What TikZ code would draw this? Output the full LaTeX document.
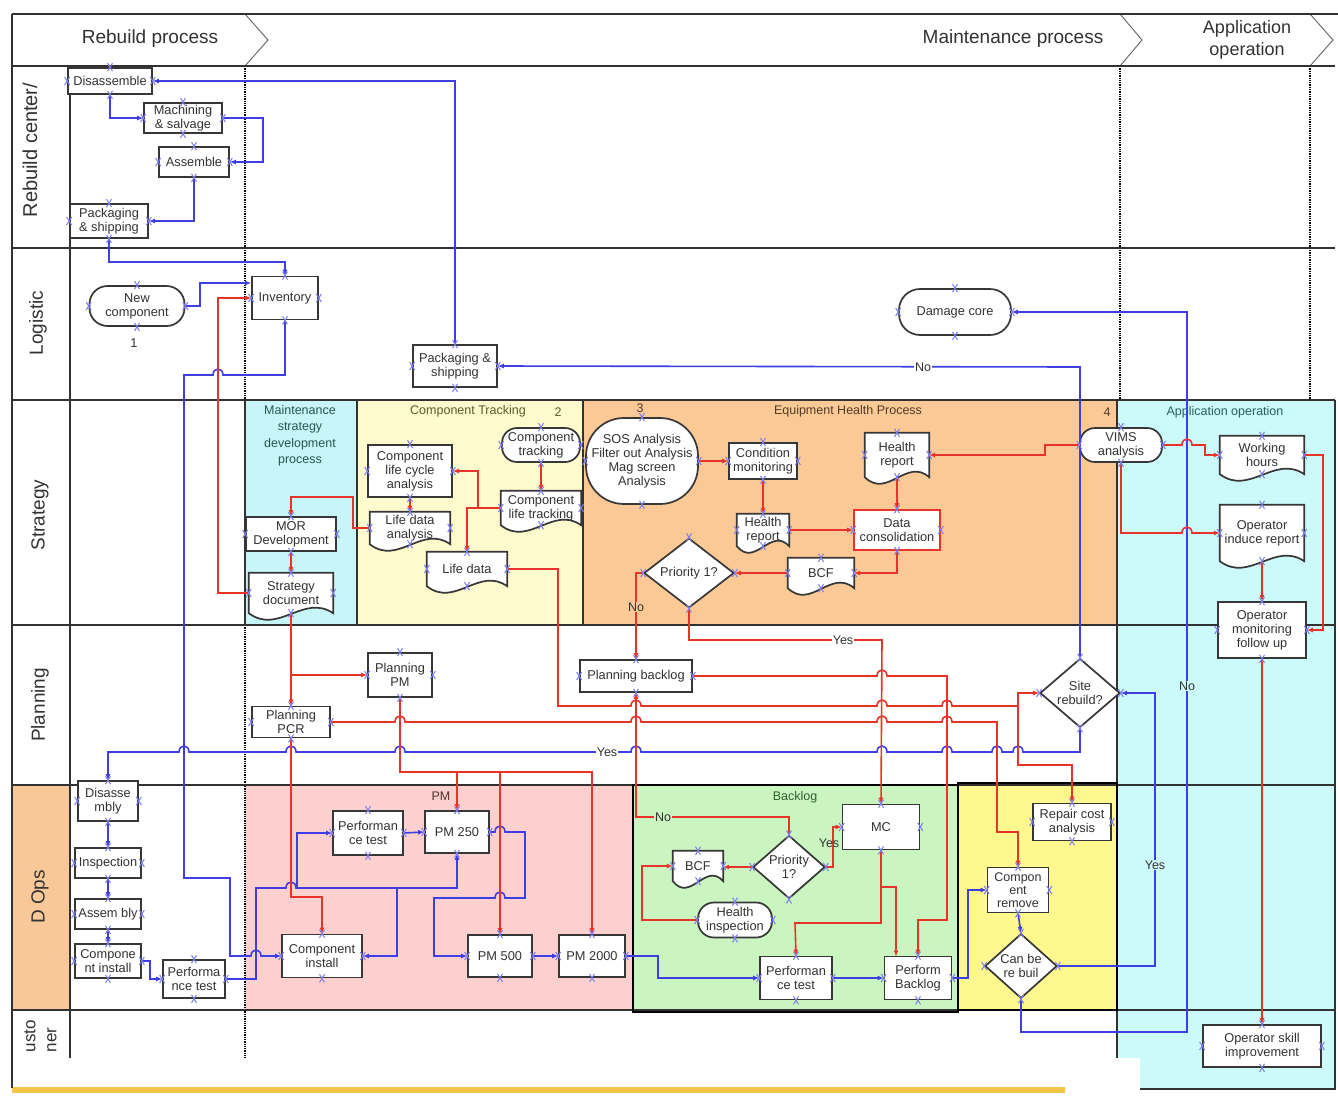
\documentclass[tikz,border=0pt]{standalone}
\usepackage{fontspec}
\setmainfont{Liberation Sans}
\usetikzlibrary{shapes.geometric,arrows.meta,calc}
\definecolor{ndraw}{RGB}{55,55,55}
\definecolor{ntext}{RGB}{50,50,50}
\definecolor{redl}{RGB}{232,52,40}
\definecolor{bluel}{RGB}{62,62,228}
\definecolor{xmk}{RGB}{125,125,235}
\definecolor{cyanA}{RGB}{200,246,248}
\definecolor{cyanB}{RGB}{204,250,250}
\definecolor{yelA}{RGB}{253,250,206}
\definecolor{orgA}{RGB}{251,201,150}
\definecolor{pinkA}{RGB}{252,208,206}
\definecolor{grnA}{RGB}{202,245,192}
\definecolor{yelB}{RGB}{254,248,142}
\definecolor{orgL}{RGB}{248,200,152}
\definecolor{lanel}{RGB}{50,50,50}
\definecolor{barY}{RGB}{246,196,72}
\pgfdeclarelayer{bg}
\pgfdeclarelayer{docs}
\pgfsetlayers{bg,docs,main}
\begin{document}
\begin{tikzpicture}[x=1pt,y=-1pt,
  nf/.style={font=\fontsize{12.8}{14}\selectfont, text=ntext},
  box/.style={nf, draw=ndraw, fill=white, line width=1.7pt, rectangle, align=center, inner sep=1pt},
  term/.style={box, rounded corners=13pt},
  docn/.style={nf, rectangle, align=center, inner sep=1pt},
  dia/.style={box, diamond, inner sep=0pt},
  sz/.style 2 args={minimum width=#1pt, minimum height=#2pt},
  rln/.style={draw=redl, line width=1.6pt},
  rl/.style={rln, -{Latex[length=6pt,width=5pt]}},
  bln/.style={draw=bluel, line width=1.6pt},
  bl/.style={bln, -{Latex[length=6pt,width=5pt]}},
  lbl/.style={font=\fontsize{12.5}{14}\selectfont, text=ntext, fill=white, inner sep=1pt},
  ttl/.style={font=\fontsize{12.5}{16.5}\selectfont, align=center},
  lane/.style={font=\fontsize{19}{22}\selectfont, text=lanel, rotate=90},
  hdr/.style={font=\fontsize{19}{22}\selectfont, text=lanel, align=center},
  sep/.style={draw=lanel, line width=2.8pt},
  xm/.style={draw=xmk, line width=1pt},
  jr/.style 2 args={insert path={-- (#1-5,#2) .. controls +(0,-8) and +(0,-8) .. (#1+5,#2)}},
  jl/.style 2 args={insert path={-- (#1+5,#2) .. controls +(0,-8) and +(0,-8) .. (#1-5,#2)}},
]
\useasboundingbox (0,0) rectangle (1338,1095);

% ---------- lanes, regions and header ----------
\begin{pgfonlayer}{bg}
  \fill[white] (0,0) rectangle (1338,1095);
  \fill[orgL] (12,785) rectangle (70,1010);
  \fill[cyanA] (245,400) rectangle (357,625);
  \fill[yelA] (357,400) rectangle (583,625);
  \fill[orgA] (583,400) rectangle (1117,625);
  \fill[cyanB] (1117,400) rectangle (1335,1058);
  \fill[cyanB] (1140,1058) rectangle (1335,1089);
  \fill[pinkA] (245,785) rectangle (633,1010);
  \fill[grnA] (633,785) rectangle (958,1012);
  \fill[yelB] (958,783) rectangle (1117,1010);
  \fill[barY] (12,1087) rectangle (1065,1093);
  % header chevrons
  \draw[draw=lanel!70, line width=1pt] (245,14) -- (268,40) -- (245,66);
  \draw[draw=lanel!70, line width=1pt] (1120,14) -- (1142,40) -- (1120,66);
  \draw[draw=lanel!70, line width=1pt] (1310,14) -- (1333,40) -- (1310,66);
  % phase separators
  \draw[densely dotted, line width=1.3pt, draw=black] (245,66) -- (245,1058);
  \draw[densely dotted, line width=1.3pt, draw=black] (1120,66) -- (1120,400);
  \draw[densely dotted, line width=1.3pt, draw=black] (1310,66) -- (1310,400);
  % lane lines
  \foreach \yy in {66,248,400,625,785,1010} \draw[sep] (12,\yy) -- (1335,\yy);
  \draw[sep] (12,14) -- (1338,14);
  \draw[sep] (12,14) -- (12,1088);
  \draw[sep] (70,66) -- (70,1058);
  % region borders
  \draw[draw=lanel, line width=2pt] (245,400) -- (245,625) (357,400) -- (357,625) (583,400) -- (583,625);
  \draw[draw=lanel, line width=2.2pt] (1117,400) -- (1117,1058);
  \draw[draw=lanel, line width=2.2pt] (1335,400) -- (1335,1089) -- (1140,1089);
  \draw[draw=black, line width=2pt] (633,785) rectangle (958,1012);
  \draw[draw=black, line width=2pt] (958,783) rectangle (1117,1010);
\end{pgfonlayer}

% header and lane titles
\node[hdr] (hRebuild) at (150,39) {Rebuild process};
\node[hdr] (hMaint) at (1013,39) {Maintenance process};
\node[hdr, font=\fontsize{18}{22}\selectfont] (hApp) at (1247,40) {Application\\ operation};
\node[lane, font=\fontsize{20}{22}\selectfont] (lRebuild) at (30,150) {Rebuild center/};
\node[lane] (lLog) at (38,323) {Logistic};
\node[lane] (lStrat) at (40,515) {Strategy};
\node[lane] (lPlan) at (40,705) {Planning};
\node[lane] (lOps) at (40,897) {D Ops};
\node[lane, font=\fontsize{17}{20}\selectfont] (lCust1) at (30,1036) {usto};
\node[lane, font=\fontsize{17}{20}\selectfont] (lCust2) at (52,1040) {ner};

% region titles
\node[ttl, text={rgb,255:red,40;green,85;blue,85}] (tMsd) at (300,436) {Maintenance\\ strategy\\ development\\ process};
\node[ttl, text={rgb,255:red,90;green,90;blue,45}] (tCt) at (468,411) {Component Tracking};
\node[ttl, text={rgb,255:red,90;green,90;blue,45}] (tN2) at (558,412) {2};
\node[ttl, text={rgb,255:red,80;green,60;blue,40}] (tN3) at (640,408) {3};
\node[ttl, text={rgb,255:red,80;green,60;blue,40}] (tEhp) at (848,411) {Equipment Health Process};
\node[ttl, text={rgb,255:red,80;green,60;blue,40}] (tN4) at (1107,412) {4};
\node[ttl, text={rgb,255:red,40;green,95;blue,95}] (tApp) at (1225,412) {Application operation};
\node[ttl, text={rgb,255:red,85;green,50;blue,50}] (tPm) at (441,796) {PM};
\node[ttl, text={rgb,255:red,40;green,100;blue,40}] (tBl) at (795,797) {Backlog};

% ---------- Rebuild center ----------
\node[box,sz={84}{26}] (dis) at (110,81) {Disassemble};
\node[box,sz={78}{30}] (mach) at (183,118) {Machining\\ \& salvage};
\node[box,sz={70}{30}] (asm) at (194,162) {Assemble};
\node[box,sz={78}{34}] (pkr) at (109,221) {Packaging\\ \& shipping};

% ---------- Logistic ----------
\node[term,sz={95}{40},rounded corners=18pt] (newc) at (137,306) {New\\ component};
\node[nf] (n1) at (134,343) {1};
\node[box,sz={66}{43}] (inv) at (285,298) {Inventory};
\node[box,sz={84}{42}] (pkl) at (455,366) {Packaging \&\\ shipping};
\node[term,sz={112}{46},rounded corners=21pt] (dmg) at (955,312) {Damage core};

% ---------- Strategy ----------
\node[box,sz={90}{34}] (mor) at (291,534) {MOR\\ Development};
\node[docn,sz={84}{40}] (sdoc) at (291,593) {Strategy\\ document};
\node[box,sz={84}{52}] (clca) at (410,471) {Component\\ life cycle\\ analysis};
\node[docn,sz={80}{32}] (lda) at (410,528) {Life data\\ analysis};
\node[docn,sz={80}{34}] (ld) at (467,569) {Life data};
\node[term,sz={78}{34},rounded corners=15pt] (ctr) at (541,445) {Component\\ tracking};
\node[docn,sz={80}{34}] (clt) at (541,508) {Component\\ life tracking};
\node[term,sz={112}{86},rounded corners=38pt] (sos) at (642,461) {SOS Analysis\\ Filter out Analysis\\ Mag screen\\ Analysis};
\node[box,sz={68}{36}] (cmon) at (763,461) {Condition\\ monitoring};
\node[docn,sz={52}{32}] (hr1) at (763,530) {Health\\ report};
\node[docn,sz={64}{44}] (hr2) at (897,455) {Health\\ report};
\node[box,draw=redl,sz={86}{40}] (dcon) at (897,530) {Data\\ consolidation};
\node[docn,sz={66}{30}] (bcf1) at (821,573) {BCF};
\node[dia,sz={90}{62}] (pri1) at (689,573) {Priority 1?};
\node[term,sz={82}{34},rounded corners=15pt] (vims) at (1121,445) {VIMS\\ analysis};
\node[docn,sz={84}{38}] (wh) at (1262,455) {Working\\ hours};
\node[docn,sz={84}{56}] (oir) at (1262,533) {Operator\\ induce report};
\node[box,sz={88}{56}] (omf) at (1262,630) {Operator\\ monitoring\\ follow up};

% ---------- Planning ----------
\node[box,sz={64}{44}] (ppm) at (400,675) {Planning\\ PM};
\node[box,sz={78}{31}] (pcr) at (291,722) {Planning\\ PCR};
\node[box,sz={112}{32}] (pbl) at (636,676) {Planning backlog};
\node[dia,sz={80}{62}] (site) at (1080,693) {Site\\ rebuild?};

% ---------- D Ops ----------
\node[box,sz={60}{40}] (dsy) at (108,801) {Disasse\\ mbly};
\node[box,sz={66}{30}] (insp) at (108,863) {Inspection};
\node[box,sz={66}{30}] (asy) at (108,914) {Assem bly};
\node[box,sz={66}{34}] (cil) at (108,961) {Compone\\ nt install};
\node[box,sz={62}{38}] (ptl) at (194,979) {Performa\\ nce test};
\node[box,sz={70}{44}] (ptp) at (368,833) {Performan\\ ce test};
\node[box,sz={64}{42}] (pm250) at (457,832) {PM 250};
\node[box,sz={80}{43}] (cip) at (322,956) {Component\\ install};
\node[box,sz={64}{42}] (pm500) at (500,956) {PM 500};
\node[box,sz={66}{42}] (pm2000) at (592,956) {PM 2000};
\node[docn,sz={50}{30}] (bcf2) at (698,866) {BCF};
\node[dia,sz={72}{60}] (pri2) at (789,867) {Priority\\ 1?};
\node[box,sz={77}{45}] (mc) at (881,827) {MC};
\node[term,sz={74}{35},rounded corners=16pt] (hin) at (735,920) {Health\\ inspection};
\node[box,sz={72}{43}] (ptb) at (796,978) {Performan\\ ce test};
\node[box,sz={67}{43}] (pfb) at (918,978) {Perform\\ Backlog};
\node[box,sz={61}{45},font=\fontsize{12.5}{13}\selectfont] (crm) at (1018,890) {Compon\\ ent\\ remove};
\node[box,sz={78}{37}] (rca) at (1072,822) {Repair cost\\ analysis};
\node[dia,sz={72}{54}] (cbr) at (1021,966) {Can be\\ re buil};

% ---------- Customer ----------
\node[box,sz={118}{42}] (osi) at (1262,1046) {Operator skill\\ improvement};

% document shapes (wavy bottom edge)
\begin{pgfonlayer}{docs}
\foreach \nd in {sdoc,lda,ld,clt,hr1,hr2,bcf1,wh,oir,bcf2}{
  \draw[fill=white, draw=ndraw, line width=1.7pt]
    let \p1=(\nd.north west), \p2=(\nd.south east) in
    (\x1,\y1) -- (\x2,\y1) -- (\x2,\y2)
    .. controls ({\x2-0.35*(\x2-\x1)},{\y2+20pt}) and ({\x1+0.35*(\x2-\x1)},{\y2-22pt}) .. (\x1,\y2) -- cycle;
}
\end{pgfonlayer}

% ---------- blue flow ----------
\draw[bl] (dis.south) |- (mach.west);
\draw[bl] (mach.east) -- (263,118) -- (263,162) -- (asm.east);
\draw[bl] (asm.south) |- (pkr.east);
\draw[bl] (pkr.south) -- (109,262) -- (285,262) -- (inv.north);
\draw[bl] (pkl.north) |- (dis.east);
\draw[bl] (newc.east) -- (200,306) -- (200,283) -- (inv.west |- 0,283);
\draw[bl] (inv.south) -- (285,375) [jl={218}{375}] -- (184,375) -- (184,878) -- (230,878) -- (230,956) [jr={256}{956}] -- (cip.west);
\draw[bl] (ptl.east) -- (256,979) -- (256,888) [jr={291}{888}] -- (457,888) -- (pm250.south);
\coordinate (jA) at (397,888);
\coordinate (jB) at (297,888);
\draw[bl] (jA) -- (397,956) -- (cip.east);
\draw[bl] (jB) -- (297,833) -- (ptp.west);
\draw[bl] (ptp.east) -- (pm250.west);
\draw[bl] (pm250.east) [jr={500}{832}] -- (525,832) -- (525,898) [jl={500}{898}] -- (434,898) -- (434,956) -- (pm500.west);
\draw[bl] (pm500.east) -- (pm2000.west);
\draw[bl] (pm2000.east) -- (658,956) -- (658,978) -- (ptb.west);
\draw[bl] (ptb.east) -- (pfb.west);
\draw[bl] (pfb.east) -- (968,978) -- (968,890) -- (crm.west);
\draw[bl] (crm.south) -- (cbr.north);
\draw[bl] (cbr.east) -- (1155,966) -- (1155,693) -- (site.east);
\draw[bl] (cbr.south) -- (1021,1032) -- (1187,1032) -- (1187,312) -- (dmg.east);
\draw[bl] (site.north) -- (1080,367) -- (pkl.east);
\draw[bl] (site.south) -- (1080,752) [jl={1018}{752}] [jl={997}{752}] [jl={947}{752}] [jl={882}{752}]
  [jl={636}{752}] [jl={400}{752}] [jl={291}{752}] [jl={184}{752}] -- (108,752) -- (dsy.north);
\draw[bl] (dsy.south) -- (insp.north);
\draw[bl] (insp.south) -- (asy.north);
\draw[bl] (asy.south) -- (cil.north);
\draw[bl] (cil.east) -- (150,961) -- (150,979) -- (ptl.west);

% ---------- red flow ----------
\draw[rl] (clca.south) -- (lda.north);
\draw[rl] (clt.west) -- (467,508) -- (ld.north);
\coordinate (jC) at (478,508);
\draw[rl] (jC) -- (478,471) -- (clca.east);
\draw[rl] (ctr.south) -- (clt.north);
\draw[rl] (lda.west) -- (353,528) -- (353,497) -- (291,497) -- (mor.north);
\draw[rl] (mor.south) -- (sdoc.north);
\draw[rl] (sdoc.west) -- (218,593) -- (218,298) -- (inv.west);
\draw[rl] (sos.east) -- (cmon.west);
\draw[rl] (cmon.south) -- (hr1.north);
\draw[rl] (hr1.east) -- (dcon.west);
\draw[rl] (hr2.south) -- (dcon.north);
\draw[rl] (dcon.south) -- (897,573) -- (bcf1.east);
\draw[rl] (bcf1.west) -- (pri1.east);
\draw[rl] (vims.west) -- (1045,445) -- (1045,455) -- (hr2.east);
\draw[rl] (vims.east) [jr={1187}{445}] -- (1205,445) -- (1205,455) -- (wh.west);
\draw[rl] (vims.south) -- (1121,533) [jr={1187}{533}] -- (oir.west);
\draw[rl] (wh.east) -- (1323,455) -- (1323,630) -- (omf.east);
\draw[rl] (oir.south) -- (omf.north);
\draw[rl] (omf.south) -- (osi.north);
\draw[rl] (pri1.west) -- (636,573) -- (pbl.north);
\draw[rl] (pri1.south) -- (689,640) -- (882,640) -- (mc.north);
\draw[rl] (pbl.east) [jr={882}{676}] -- (947,676) -- (947,920) -- (918,920) -- (pfb.north);
\draw[rl] (ld.east) -- (558,569) -- (558,706) [jr={636}{706}] [jr={882}{706}] [jr={947}{706}] -- (1018,706) -- (1018,693) -- (site.west);
\coordinate (jD) at (1018,706);
\draw[rl] (jD) -- (1018,765) -- (1072,765) -- (rca.north);
\draw[rl] (pcr.east) [jr={400}{722}] [jr={636}{722}] [jr={882}{722}] [jr={947}{722}] -- (997,722) -- (997,832) -- (1018,832) -- (crm.north);
\draw[rl] (sdoc.south) -- (pcr.north);
\coordinate (jE) at (291,675);
\draw[rl] (jE) -- (ppm.west);
\draw[rl, line width=2.4pt] (ppm.south) -- (400,772) -- (592,772) -- (pm2000.north);
\coordinate (jF) at (457,772);
\coordinate (jG) at (500,772);
\draw[rl] (jF) -- (pm250.north);
\draw[rl] (jG) -- (pm500.north);
\draw[rl] (pcr.south) -- (291,897) -- (322,897) -- (cip.north);
\draw[rl] (pri2.north) -- (789,817) -- (636,817) -- (pbl.south);
\draw[rl] (pri2.west) -- (bcf2.east |- pri2.west);
\draw[rl] (hin.west) -- (642,920) -- (642,866) -- (bcf2.west);
\draw[rl] (pri2.east) -- (833,867) -- (833,827) -- (mc.west);
\draw[rl] (mc.south) -- (881,923) -- (795,923) -- (ptb.north);
\coordinate (jH) at (881,887);
\draw[rl] (jH) -- (896,887) -- (896,956.5);

% ---------- connector labels ----------
\node[lbl, fill=orgA] (lNo1) at (636,607) {No};
\node[lbl] (lYes1) at (843,640) {Yes};
\node[lbl] (lYes2) at (607,752) {Yes};
\node[lbl] (lNo2) at (923,367) {No};
\node[lbl, fill=cyanB] (lNo3) at (1187,686) {No};
\node[lbl, fill=cyanB] (lYes3) at (1155,865) {Yes};
\node[lbl, fill=grnA] (lNo4) at (663,817) {No};
\node[lbl, fill=none] (lYes4) at (829,843) {Yes};

% ---------- connection point markers ----------
\foreach \nd in {dis,mach,asm,pkr,newc,inv,pkl,dmg,mor,sdoc,clca,lda,ld,ctr,clt,sos,cmon,hr1,hr2,dcon,bcf1,pri1,vims,wh,oir,omf,ppm,pcr,pbl,site,dsy,insp,asy,cil,ptl,ptp,pm250,cip,pm500,pm2000,bcf2,pri2,mc,hin,ptb,pfb,crm,rca,cbr,osi}{
  \foreach \an in {north,south,east,west}{
    \draw[xm] (\nd.\an) +(-2.5,-4) -- +(2.5,4) +(-2.5,4) -- +(2.5,-4);
  }
}
\end{tikzpicture}
\end{document}
